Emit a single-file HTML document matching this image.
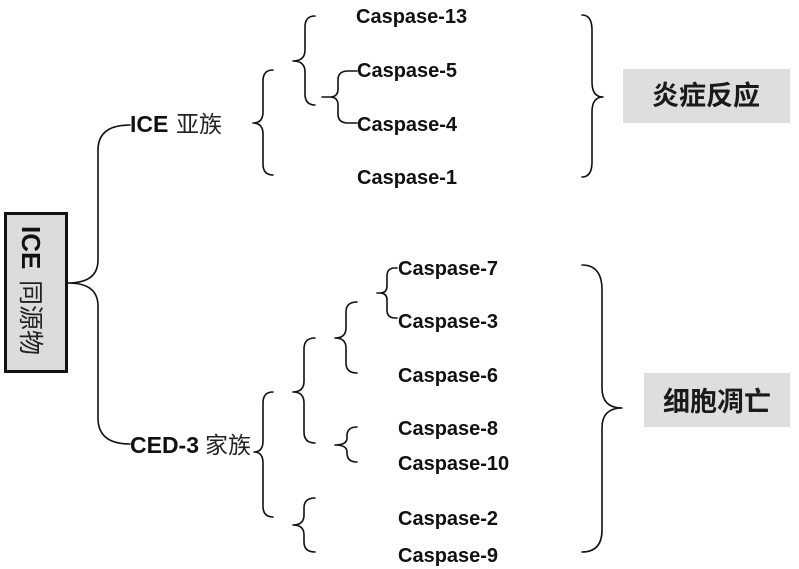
<!DOCTYPE html>
<html>
<head>
<meta charset="utf-8">
<style>
  html, body { margin: 0; padding: 0; background: #ffffff; }
  body { width: 799px; height: 569px; overflow: hidden; }
  svg { display: block; }
  .cas { font-family: "Liberation Sans", Arial, sans-serif; font-weight: bold; font-size: 20px; fill: #111; }
  .lat { font-family: "Liberation Sans", Arial, sans-serif; font-weight: bold; font-size: 23px; fill: #111; }
  .cjk { font-family: "Liberation Sans", "Noto Sans CJK SC", sans-serif; font-size: 23px; fill: #222; }
  .box { font-family: "Liberation Sans", "Noto Sans CJK SC", sans-serif; font-size: 27px; fill: #1a1a1a; font-weight: bold; }
  path { fill: none; stroke: #111; stroke-width: 1.6; stroke-linecap: round; stroke-linejoin: round; }
</style>
</head>
<body>
<svg width="799" height="569" viewBox="0 0 799 569" xmlns="http://www.w3.org/2000/svg">
  <rect x="0" y="0" width="799" height="569" fill="#ffffff"/>

  <!-- Root box -->
  <rect x="5.5" y="213.5" width="61" height="158" fill="#dcdcdc" stroke="#111" stroke-width="3"/>
  <g transform="translate(31,292) rotate(90)">
    <text x="-66" y="9" font-family="Liberation Sans, Arial, sans-serif" font-weight="bold" font-size="26" fill="#111">ICE</text>
    <text x="-12" y="9" font-family="Liberation Sans, Noto Sans CJK SC, sans-serif" font-size="25" fill="#222">同源物</text>
  </g>

  <!-- Main connector -->
  <path d="M130,125 Q98,125 98,150 L98,260 Q98,283 68,283 Q98,283 98,306 L98,418 Q98,444 130,444"/>

  <!-- ICE subfamily label -->
  <text class="lat" x="130" y="132">ICE</text>
  <text class="cjk" x="176" y="132">亚族</text>

  <!-- CED-3 family label -->
  <text class="lat" x="130" y="453">CED-3</text>
  <text class="cjk" x="205" y="453">家族</text>

  <!-- ICE group brace -->
  <path d="M273,70 Q263,70 263,81 L263,112 Q263,123 253,123 Q263,123 263,134 L263,164 Q263,175 273,175"/>
  <!-- Caspase-13 & 5/4 brace -->
  <path d="M315,16 Q305,16 305,27 L305,50 Q305,61 293,61 Q305,61 305,72 L305,94 Q305,105 315,105"/>
  <!-- 5/4 brace (connected to text) -->
  <path d="M357,71 L348,71 Q338,71 338,80 L338,89 Q338,97 330,97 L322,97 M330,97 Q338,97 338,105 L338,114 Q338,123 348,123 L357,123"/>

  <!-- CED-3 brace -->
  <path d="M273,392 Q263,392 263,403 L263,441 Q263,452 254,452 Q263,452 263,463 L263,506 Q263,517 273,517"/>
  <!-- B brace -->
  <path d="M315,338 Q304,338 304,349 L304,381 Q304,392 293,392 Q304,392 304,403 L304,432 Q304,443 315,443"/>
  <!-- C brace -->
  <path d="M357,302 Q346,302 346,312 L346,328 Q346,338 335,338 Q346,338 346,348 L346,363 Q346,373 357,373"/>
  <!-- D brace (7/3, connected to text) -->
  <path d="M397,268 L395,268 Q387,268 387,276 L387,286 Q387,293 380,293 L377,293 M380,293 Q387,293 387,300 L387,310 Q387,318 395,318 L397,318"/>
  <!-- E brace (8/10) -->
  <path d="M357,427 Q347,427 347,436 L347,438 Q347,445 335,445 Q347,445 347,452 L347,453 Q347,462 357,462"/>
  <!-- F brace (2/9) -->
  <path d="M315,498 Q304,498 304,508 L304,515 Q304,525 293,525 Q304,525 304,535 L304,542 Q304,552 315,552"/>

  <!-- Right braces -->
  <path d="M582,15 Q592,15 592,30 L592,82 Q592,97 603,97 Q592,97 592,112 L592,162 Q592,177 582,177"/>
  <path d="M582,265 Q602,265 602,290 L602,388 Q602,408 622,408 Q602,408 602,428 L602,530 Q602,552 582,552"/>

  <!-- Caspase labels (ICE) -->
  <text class="cas" x="356" y="23">Caspase-13</text>
  <text class="cas" x="357" y="77">Caspase-5</text>
  <text class="cas" x="357" y="131">Caspase-4</text>
  <text class="cas" x="357" y="184">Caspase-1</text>

  <!-- Caspase labels (CED-3) -->
  <text class="cas" x="398" y="275">Caspase-7</text>
  <text class="cas" x="398" y="328">Caspase-3</text>
  <text class="cas" x="398" y="382">Caspase-6</text>
  <text class="cas" x="398" y="435">Caspase-8</text>
  <text class="cas" x="398" y="470">Caspase-10</text>
  <text class="cas" x="398" y="525">Caspase-2</text>
  <text class="cas" x="398" y="562">Caspase-9</text>

  <!-- Outcome boxes -->
  <rect x="623" y="69" width="167" height="54" fill="#dedede"/>
  <text class="box" x="706" y="105" text-anchor="middle">炎症反应</text>

  <rect x="644" y="373" width="146" height="54" fill="#dedede"/>
  <text class="box" x="717" y="411" text-anchor="middle">细胞凋亡</text>
</svg>
</body>
</html>
